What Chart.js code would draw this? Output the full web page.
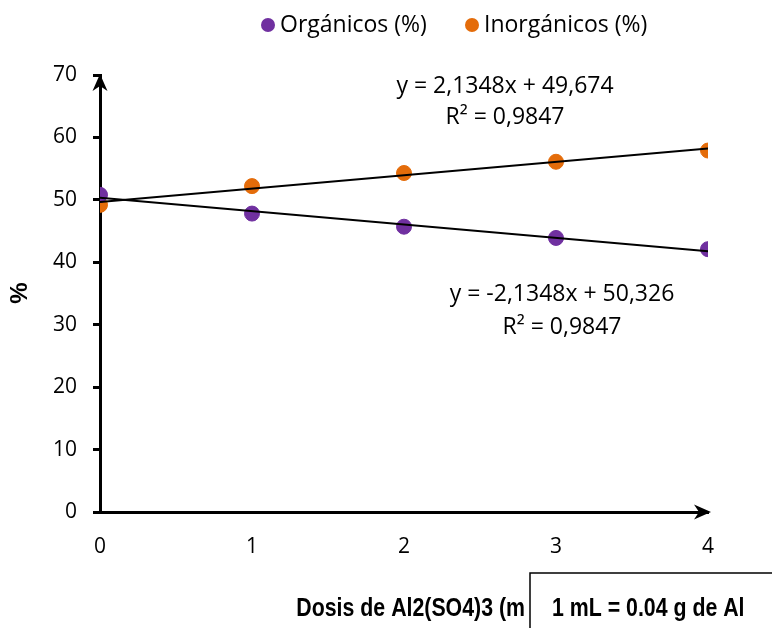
<!DOCTYPE html>
<html>
<head>
<meta charset="utf-8">
<script src="https://cdn.jsdelivr.net/npm/chart.js@4"></script>
<style>
  html, body { margin: 0; padding: 0; background: #fff; }
  #wrap { position: relative; width: 772px; height: 628px; }
</style>
</head>
<body>
<div id="wrap"><canvas id="chart"></canvas></div>
<script>
const doses = [0, 1, 2, 3, 4];
const organicos = [50.8, 47.8, 45.7, 43.9, 42.1];
const inorganicos = [49.2, 52.2, 54.3, 56.1, 57.9];
const seriesNames = ['Orgánicos (%)', 'Inorgánicos (%)'];
const seriesColors = ['#7030a0', '#e46c0a'];
// trendline coefficients as printed on the chart
const trendSlopes = [-2.1348, 2.1348];
const trendIntercepts = [50.326, 49.674];
const trendLabels = [
  ['y = -2,1348x + 50,326', 'R² = 0,9847'],
  ['y = 2,1348x + 49,674', 'R² = 0,9847']
];
const yTicks = [0, 10, 20, 30, 40, 50, 60, 70];
const xTitle = 'Dosis de Al2(SO4)3 (m';
const noteText = '1 mL = 0.04 g de Al';

const FONT = '"Open Sans", Lato, sans-serif';
const BOLD = 'bold 26px "Liberation Sans", Arial, sans-serif';

function points(ys) {
  return doses.map((x, i) => ({ x, y: ys[i] }));
}

function trend(i) {
  const x0 = doses[0], x1 = doses[doses.length - 1];
  return [
    { x: x0, y: trendIntercepts[i] + trendSlopes[i] * x0 },
    { x: x1, y: trendIntercepts[i] + trendSlopes[i] * x1 }
  ];
}

function arrowHead(ctx, tipX, tipY, dir) {
  ctx.save();
  ctx.translate(tipX, tipY);
  if (dir === 'right') ctx.rotate(Math.PI / 2);
  ctx.beginPath();
  ctx.moveTo(0, 0);
  ctx.lineTo(-7.5, 17);
  ctx.lineTo(0, 12);
  ctx.lineTo(7.5, 17);
  ctx.closePath();
  ctx.fillStyle = '#000';
  ctx.fill();
  ctx.restore();
}

// narrow bold text, squeezed to look like Arial Narrow
function narrowText(ctx, text, x, y, align) {
  ctx.save();
  ctx.font = BOLD;
  ctx.textAlign = align;
  ctx.translate(x, y);
  ctx.scale(0.82, 1);
  ctx.fillText(text, 0, 0);
  ctx.restore();
}

const decorPlugin = {
  id: 'decor',
  afterDraw(chart) {
    const ctx = chart.ctx;
    const { left, right, top, bottom } = chart.chartArea;

    arrowHead(ctx, left, top - 1, 'up');
    arrowHead(ctx, right + 3, bottom, 'right');

    ctx.save();
    ctx.fillStyle = '#000';
    ctx.textBaseline = 'middle';

    // legend
    ctx.font = '23px ' + FONT;
    const legendX = [261, 465];
    seriesNames.forEach((name, i) => {
      const lx = legendX[i];
      ctx.beginPath();
      ctx.arc(lx + 7, 25, 7, 0, Math.PI * 2);
      ctx.fillStyle = seriesColors[i];
      ctx.fill();
      ctx.fillStyle = '#000';
      ctx.textAlign = 'left';
      ctx.fillText(name, lx + 19, 25);
    });

    // trendline equations
    ctx.textAlign = 'center';
    const eqPos = [[562, 294, 327], [505, 86, 117]];
    trendLabels.forEach((lines, i) => {
      ctx.fillText(lines[0], eqPos[i][0], eqPos[i][1]);
      ctx.fillText(lines[1], eqPos[i][0], eqPos[i][2]);
    });

    // y title
    ctx.save();
    ctx.translate(20, 293);
    ctx.rotate(-Math.PI / 2);
    ctx.font = 'bold 24px "Liberation Sans", Arial, sans-serif';
    ctx.textAlign = 'center';
    ctx.fillText('%', 0, 0);
    ctx.restore();

    // x title and note box
    narrowText(ctx, xTitle, 525, 609, 'right');
    ctx.fillStyle = '#fff';
    ctx.fillRect(530, 573, 260, 70);
    ctx.strokeStyle = '#000';
    ctx.lineWidth = 1.5;
    ctx.strokeRect(530, 573, 260, 70);
    ctx.fillStyle = '#000';
    narrowText(ctx, noteText, 552, 609, 'left');
    ctx.restore();
  }
};

new Chart(document.getElementById('chart'), {
  type: 'scatter',
  data: {
    datasets: [
      { label: seriesNames[0], data: points(organicos), backgroundColor: seriesColors[0], borderColor: seriesColors[0], pointRadius: 7.5, pointHoverRadius: 7.5, order: 2 },
      { label: seriesNames[1], data: points(inorganicos), backgroundColor: seriesColors[1], borderColor: seriesColors[1], pointRadius: 7.5, pointHoverRadius: 7.5, order: 2 },
      { label: 'trend0', data: trend(0), showLine: true, borderColor: '#000', borderWidth: 2, pointRadius: 0, order: 1 },
      { label: 'trend1', data: trend(1), showLine: true, borderColor: '#000', borderWidth: 2, pointRadius: 0, order: 1 }
    ]
  },
  options: {
    responsive: true,
    maintainAspectRatio: false,
    animation: false,
    layout: { padding: { top: 75, right: 64, left: 0, bottom: 0 } },
    plugins: { legend: { display: false }, tooltip: { enabled: false } },
    scales: {
      x: {
        type: 'linear',
        min: 0,
        max: 4,
        afterFit: s => { s.height = 116; },
        border: { display: true, color: '#000', width: 3 },
        grid: { display: false, drawTicks: false },
        ticks: { stepSize: 1, color: '#000', font: { family: FONT, size: 21 }, padding: 22 }
      },
      y: {
        min: 0,
        max: 70,
        afterFit: s => { s.width = 100; },
        afterBuildTicks: s => { s.ticks = yTicks.map(v => ({ value: v })); },
        border: { display: true, color: '#000', width: 3 },
        grid: { drawOnChartArea: false, drawTicks: true, tickLength: 7, color: '#000', lineWidth: 3 },
        ticks: { color: '#000', font: { family: FONT, size: 21 }, padding: 16 }
      }
    }
  },
  plugins: [decorPlugin]
});
</script>
</body>
</html>
